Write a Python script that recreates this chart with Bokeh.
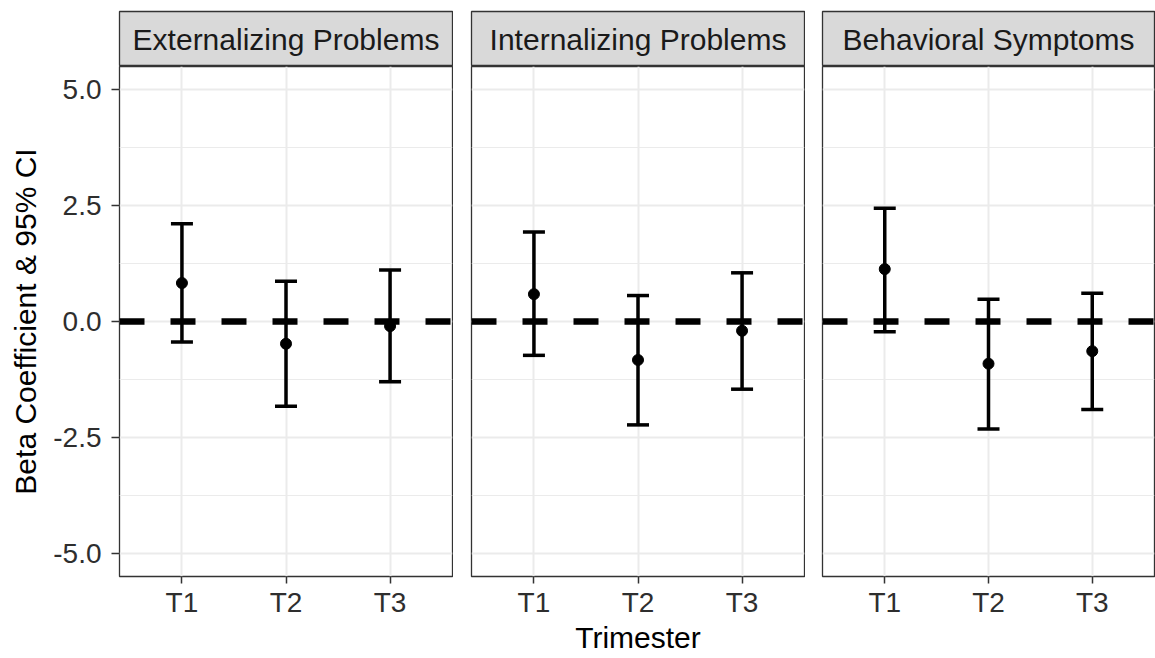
from bokeh.plotting import figure
from bokeh.models import (Range1d, FactorRange, FixedTicker, NumeralTickFormatter,
                          Whisker, TeeHead, ColumnDataSource, Label, Span)
from bokeh.layouts import row, column
from bokeh.embed import file_html
from bokeh.resources import INLINE

# ---------------- data ----------------
TRIMESTERS = ["T1", "T2", "T3"]
OUTCOMES = ["Externalizing Problems", "Internalizing Problems", "Behavioral Symptoms"]

EXT_BETA = [0.83, -0.48, -0.10]
EXT_LOWER = [-0.44, -1.83, -1.30]
EXT_UPPER = [2.11, 0.87, 1.11]

INT_BETA = [0.59, -0.83, -0.20]
INT_LOWER = [-0.73, -2.23, -1.46]
INT_UPPER = [1.93, 0.56, 1.05]

BEH_BETA = [1.13, -0.91, -0.64]
BEH_LOWER = [-0.22, -2.32, -1.90]
BEH_UPPER = [2.44, 0.48, 0.61]

Y_TICKS = [-5.0, -2.5, 0.0, 2.5, 5.0]
Y_MINOR = [-3.75, -1.25, 1.25, 3.75]
REF_LINE = 0.0
Y_LIMITS = (-5.5, 5.5)

X_TITLE = "Trimester"
Y_TITLE = "Beta Coefficient & 95% CI"

SERIES = [
    (EXT_BETA, EXT_LOWER, EXT_UPPER),
    (INT_BETA, INT_LOWER, INT_UPPER),
    (BEH_BETA, BEH_LOWER, BEH_UPPER),
]

# ---------------- style ----------------
FONT = "Liberation Sans"
GRID = "#EBEBEB"
DARK = "#333333"
LEFT_BORDERS = [119, 18, 17]
FRAME_WIDTHS = [333, 333, 332]
STRIP_H = 55
STRIP_TOP = 11
MAIN_H = 592
MAIN_BOTTOM = 82

strips = []
mains = []
for i, (outcome, (beta, lower, upper)) in enumerate(zip(OUTCOMES, SERIES)):
    left_border = LEFT_BORDERS[i]
    width = left_border + FRAME_WIDTHS[i] + 1

    # ---- strip ----
    s = figure(width=width, height=STRIP_TOP + STRIP_H, output_backend="svg",
               toolbar_location=None, x_range=Range1d(0, 1), y_range=Range1d(0, 1),
               x_axis_location=None, y_axis_location=None,
               min_border_left=left_border, min_border_right=1,
               min_border_top=STRIP_TOP, min_border_bottom=0)
    s.background_fill_color = "#D9D9D9"
    s.border_fill_color = "white"
    s.outline_line_color = DARK
    s.outline_line_width = 1.3
    s.grid.visible = False
    s.add_layout(Label(x=0.5, y=0.5, text=outcome, text_align="center",
                       text_baseline="middle", text_font=FONT,
                       text_font_size="30px", text_color="#1A1A1A"))
    strips.append(s)

    # ---- panel ----
    p = figure(width=width, height=MAIN_H, output_backend="svg", toolbar_location=None,
               x_range=FactorRange(factors=TRIMESTERS, range_padding=0.1,
                                   range_padding_units="absolute"),
               y_range=Range1d(*Y_LIMITS),
               min_border_left=left_border, min_border_right=1,
               min_border_top=0, min_border_bottom=MAIN_BOTTOM)
    p.background_fill_color = "white"
    p.border_fill_color = "white"
    p.outline_line_color = DARK
    p.outline_line_width = 1.3

    ticker = FixedTicker(ticks=Y_TICKS, minor_ticks=Y_MINOR)
    p.yaxis.ticker = ticker
    p.ygrid.ticker = ticker
    p.ygrid.grid_line_color = GRID
    p.ygrid.grid_line_width = 2
    p.ygrid.minor_grid_line_color = GRID
    p.ygrid.minor_grid_line_width = 1
    p.xgrid.grid_line_color = GRID
    p.xgrid.grid_line_width = 2

    # x axis
    xa = p.xaxis[0]
    xa.axis_line_color = None
    xa.major_tick_line_color = DARK
    xa.major_tick_line_width = 1.5
    xa.major_tick_out = 7
    xa.major_tick_in = 0
    xa.minor_tick_line_color = None
    xa.major_label_text_font = FONT
    xa.major_label_text_font_size = "28px"
    xa.major_label_text_color = "#2E2E2E"
    xa.major_label_standoff = 3
    if i == 1:
        xa.axis_label = X_TITLE
        xa.axis_label_text_font = FONT
        xa.axis_label_text_font_size = "30px"
        xa.axis_label_text_font_style = "normal"
        xa.axis_label_text_color = "black"
        xa.axis_label_standoff = 0

    ya = p.yaxis[0]
    if i == 0:
        ya.formatter = NumeralTickFormatter(format="0.0")
        ya.axis_line_color = None
        ya.major_tick_line_color = DARK
        ya.major_tick_line_width = 1.5
        ya.major_tick_out = 8
        ya.major_tick_in = 0
        ya.minor_tick_line_color = None
        ya.major_label_text_font = FONT
        ya.major_label_text_font_size = "28px"
        ya.major_label_text_color = "#2E2E2E"
        ya.major_label_standoff = 10
        ya.axis_label = Y_TITLE
        ya.axis_label_text_font = FONT
        ya.axis_label_text_font_size = "30px"
        ya.axis_label_text_font_style = "normal"
        ya.axis_label_text_color = "black"
        ya.axis_label_standoff = 8
    else:
        ya.visible = False

    src = ColumnDataSource(dict(x=TRIMESTERS, beta=beta, lower=lower, upper=upper))
    p.add_layout(Span(location=REF_LINE, dimension="width", line_color="black",
                      line_width=6.5, line_dash="25 26"))
    p.add_layout(Whisker(source=src, base="x", upper="upper", lower="lower",
                         line_color="black", line_width=3.5,
                         upper_head=TeeHead(size=22, line_width=3.5, line_color="black"),
                         lower_head=TeeHead(size=22, line_width=3.5, line_color="black")))
    p.scatter("x", "beta", source=src, size=11, color="black")
    mains.append(p)

layout = column(row(*strips), row(*mains))
open("out.html", "w").write(file_html(layout, INLINE))
